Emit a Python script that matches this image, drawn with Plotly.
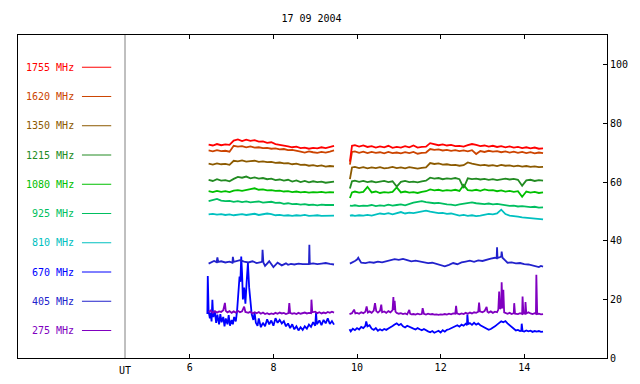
import plotly.graph_objects as go

# ---------------- data ----------------
TITLE = "17 09 2004"
FREQS = ["1755", "1620", "1350", "1215", "1080", "925", "810", "670", "405", "275"]
COLORS = ["#FF0000", "#CC4400", "#8C5A00", "#228B22", "#00C000",
          "#00BF60", "#00C0C0", "#0000FF", "#2222CC", "#8000C0"]
X_TICKS = [6, 8, 10, 12, 14]
Y_TICKS = [0, 20, 40, 60, 80, 100]

T_A = [6.45, 6.55, 6.65, 6.75, 6.85, 6.95, 7.05, 7.15, 7.25, 7.35, 7.45, 7.55, 7.65, 7.75, 7.85,
       7.95, 8.05, 8.15, 8.25, 8.35, 8.45, 8.55, 8.65, 8.75, 8.85, 8.95, 9.05, 9.15, 9.25, 9.35, 9.45]
T_B = [9.83, 9.88, 9.95, 10.05, 10.15, 10.25, 10.35, 10.45, 10.55, 10.65, 10.75, 10.85, 10.95,
       11.05, 11.15, 11.25, 11.35, 11.45, 11.55, 11.65, 11.75, 11.85, 11.95, 12.05, 12.15, 12.25,
       12.35, 12.45, 12.55, 12.65, 12.75, 12.85, 12.95, 13.05, 13.15, 13.25, 13.35, 13.45, 13.55,
       13.65, 13.75, 13.85, 13.95, 14.05, 14.15, 14.25, 14.35, 14.45]

F1755_A = [72.8, 72.5, 73.0, 72.6, 72.9, 72.7, 74.2, 74.6, 74.0, 74.5, 74.1, 74.3, 73.8, 73.9, 73.4, 73.6,
           73.0, 72.8, 72.5, 72.2, 71.9, 72.1, 71.6, 71.8, 71.4, 71.7, 71.5, 71.9, 71.6, 72.0, 72.4]
F1755_B = [67.0, 72.4, 72.6, 72.1, 72.5, 72.0, 72.3, 71.8, 72.2, 71.9, 72.4, 71.7, 72.0, 71.8, 72.3, 71.9,
           72.5, 71.8, 72.0, 72.1, 73.3, 73.0, 72.6, 72.9, 72.5, 72.7, 72.3, 72.4, 72.1, 72.6, 73.0, 72.7,
           72.3, 72.5, 72.1, 72.4, 72.0, 72.3, 71.9, 72.2, 71.8, 72.0, 71.6, 71.9, 71.5, 71.8, 71.4, 71.5]
F1620_A = [70.8, 70.5, 70.9, 70.6, 70.7, 70.4, 72.4, 72.1, 72.3, 71.9, 72.2, 71.8, 71.9, 71.6, 71.7, 71.4,
           71.5, 71.2, 71.3, 70.9, 71.0, 70.6, 70.4, 70.1, 70.5, 70.2, 70.0, 70.3, 70.1, 70.4, 70.8]
F1620_B = [66.0, 70.3, 70.5, 70.0, 70.4, 69.9, 70.3, 70.0, 70.2, 69.8, 70.3, 69.9, 70.1, 69.8, 70.2, 69.9,
           70.3, 69.7, 70.0, 70.1, 71.3, 71.0, 71.2, 70.8, 71.0, 70.7, 70.9, 70.6, 70.8, 70.5, 70.9, 69.6,
           70.6, 70.3, 70.7, 70.4, 70.6, 70.2, 70.5, 70.1, 70.4, 70.0, 70.3, 69.9, 70.2, 69.8, 70.1, 69.9]
F1350_A = [66.3, 66.0, 66.4, 66.1, 66.2, 65.9, 67.3, 67.1, 67.4, 67.0, 67.2, 67.3, 66.9, 67.1, 66.8, 66.9,
           66.6, 66.7, 66.4, 66.5, 66.1, 66.3, 65.9, 66.0, 65.6, 65.8, 65.5, 65.7, 65.3, 65.5, 65.4]
F1350_B = [61.0, 65.0, 65.2, 64.8, 65.1, 64.7, 65.0, 64.8, 65.1, 64.7, 64.9, 65.2, 64.8, 65.0, 64.7, 65.1,
           64.9, 64.6, 64.9, 65.0, 66.5, 66.2, 66.4, 66.0, 66.1, 65.8, 65.9, 65.6, 65.8, 66.7, 66.3, 66.0,
           65.7, 65.9, 65.6, 65.8, 65.5, 65.9, 65.6, 65.7, 65.4, 65.6, 65.3, 65.5, 65.2, 65.4, 65.1, 65.2]
F1215_A = [60.8, 60.4, 61.0, 60.5, 60.7, 60.3, 61.1, 61.8, 61.5, 61.9, 61.3, 61.6, 61.2, 61.4, 61.0, 61.2,
           60.7, 60.9, 60.5, 60.8, 60.2, 60.6, 60.0, 60.4, 59.9, 60.3, 60.0, 60.2, 59.8, 60.1, 60.2]
F1215_B = [57.8, 60.3, 60.5, 60.1, 60.4, 60.0, 60.3, 59.9, 60.2, 60.4, 60.0, 60.3, 58.5, 60.1, 60.4, 60.0,
           60.2, 59.9, 60.3, 60.5, 61.5, 61.2, 61.4, 61.0, 61.3, 61.1, 61.4, 61.0, 58.0, 61.3, 61.0, 61.2,
           60.9, 61.1, 60.8, 61.0, 60.7, 61.0, 61.2, 60.9, 61.1, 60.8, 58.8, 60.6, 60.8, 60.4, 60.7, 60.5]
F1080_A = [56.9, 56.6, 57.0, 56.7, 56.9, 56.6, 57.1, 57.3, 57.0, 57.4, 57.6, 57.9, 57.4, 57.5, 57.2, 57.3,
           57.0, 57.1, 56.8, 56.9, 56.6, 56.8, 56.5, 56.7, 56.4, 56.6, 56.5, 56.7, 56.4, 56.6, 56.5]
F1080_B = [54.6, 56.5, 56.8, 56.4, 56.7, 58.4, 56.5, 56.8, 56.3, 56.6, 56.4, 56.7, 58.2, 56.5, 56.8, 56.4,
           56.6, 56.3, 56.7, 56.9, 57.5, 57.2, 57.4, 57.0, 57.3, 57.1, 57.4, 57.0, 59.0, 57.3, 57.1, 57.4,
           57.0, 57.5, 57.2, 57.3, 56.9, 57.2, 56.8, 57.0, 56.7, 56.9, 55.0, 56.8, 56.4, 56.7, 56.3, 56.5]
F925_A = [53.5, 53.8, 54.3, 53.7, 53.5, 53.6, 53.3, 53.5, 53.2, 53.4, 53.1, 53.3, 53.4, 53.0, 53.2, 53.3,
          52.9, 53.0, 52.6, 52.8, 52.5, 52.6, 52.3, 52.5, 52.2, 52.3, 52.1, 52.3, 52.2, 52.3, 52.2]
F925_B = [52.0, 51.9, 52.1, 51.8, 52.0, 51.9, 52.2, 51.8, 52.1, 51.9, 52.3, 52.0, 52.2, 52.4, 52.1, 52.6,
          53.0, 53.3, 53.5, 53.2, 53.0, 52.8, 52.9, 52.6, 52.4, 52.3, 52.1, 52.4, 52.7, 53.0, 53.1, 52.8,
          52.6, 52.5, 52.7, 52.4, 52.6, 52.3, 52.2, 51.9, 52.0, 51.7, 51.8, 51.6, 51.5, 51.6, 51.3, 51.4]
F810_A = [49.0, 49.2, 48.9, 49.1, 48.8, 49.0, 48.7, 48.9, 49.1, 48.8, 48.9, 49.2, 48.8, 49.0, 49.3, 49.1,
          48.7, 48.8, 48.6, 48.7, 48.5, 48.7, 48.6, 48.8, 48.5, 48.6, 48.7, 48.5, 48.6, 48.7, 48.6]
F810_B = [48.6, 48.7, 48.5, 48.7, 48.6, 48.8, 48.6, 48.9, 49.3, 49.1, 49.4, 49.0, 49.5, 49.8, 49.3, 49.6,
          49.4, 49.7, 50.1, 50.3, 49.9, 49.6, 49.4, 49.5, 49.2, 49.3, 48.9, 48.6, 48.8, 48.5, 48.7, 48.4,
          48.6, 49.0, 49.2, 49.0, 49.3, 50.6, 49.1, 48.6, 48.3, 48.2, 48.0, 47.9, 47.7, 47.6, 47.4, 47.3]

# 405 MHz (own time base, spiky)
T405_A = [6.45, 6.52, 6.58, 6.64, 6.66, 6.68, 6.75, 6.85, 6.95, 7.02, 7.03, 7.05, 7.12, 7.2, 7.3, 7.4,
          7.5, 7.6, 7.7, 7.73, 7.74, 7.76, 7.8, 7.9, 8.0, 8.1, 8.2, 8.3, 8.35, 8.42, 8.5, 8.6, 8.7, 8.8,
          8.85, 8.86, 8.87, 8.95, 9.05, 9.15, 9.25, 9.35, 9.45]
F405_A = [32.2, 32.6, 33.1, 32.7, 34.3, 32.8, 33.0, 32.6, 32.9, 32.5, 34.5, 32.8, 33.0, 33.4, 32.9, 32.6,
          33.0, 32.4, 32.7, 32.9, 36.9, 32.6, 31.4, 33.0, 31.0, 32.5, 31.6, 32.3, 31.8, 32.1, 31.9, 32.2,
          32.0, 32.1, 32.0, 38.6, 32.1, 32.3, 32.0, 32.2, 32.4, 32.1, 31.9]
T405_B = [9.83, 9.9, 9.95, 10.0, 10.03, 10.06, 10.1, 10.2, 10.3, 10.4, 10.5, 10.6, 10.7, 10.8, 10.9,
          11.0, 11.1, 11.2, 11.3, 11.4, 11.5, 11.6, 11.7, 11.8, 11.9, 12.0, 12.1, 12.2, 12.3, 12.4, 12.5,
          12.6, 12.7, 12.8, 12.9, 13.0, 13.1, 13.2, 13.3, 13.34, 13.35, 13.36, 13.4, 13.45, 13.46, 13.48,
          13.55, 13.6, 13.7, 13.8, 13.9, 14.0, 14.1, 14.2, 14.3, 14.35, 14.4, 14.45]
F405_B = [32.2, 32.6, 33.1, 33.6, 34.2, 33.4, 32.5, 32.4, 32.7, 32.5, 32.9, 32.6, 33.0, 33.3, 33.7,
          33.5, 33.8, 33.4, 33.0, 33.2, 32.9, 32.6, 32.4, 32.5, 32.1, 31.6, 31.3, 31.8, 32.4, 32.0, 32.6,
          32.9, 33.2, 32.8, 33.3, 33.1, 33.6, 33.9, 34.2, 34.0, 37.8, 34.1, 34.3, 34.6, 36.3, 34.2,
          33.2, 32.5, 32.6, 32.3, 32.4, 32.0, 31.9, 31.6, 31.2, 31.0, 31.4, 31.2]

# 670 MHz
T670_A = [6.42, 6.43, 6.45, 6.48, 6.5, 6.52, 6.54, 6.56, 6.6, 6.63, 6.66, 6.7, 6.73, 6.76, 6.8, 6.83,
          6.86, 6.9, 6.93, 6.96, 7.0, 7.03, 7.06, 7.1, 7.13, 7.16, 7.19, 7.21, 7.23, 7.25, 7.27, 7.3,
          7.33, 7.36, 7.39, 7.42, 7.45, 7.48, 7.52, 7.55, 7.58, 7.62, 7.65, 7.7, 7.75, 7.8, 7.85, 7.9,
          7.95, 8.0, 8.05, 8.1, 8.15, 8.2, 8.25, 8.3, 8.35, 8.4, 8.45, 8.5, 8.55, 8.6, 8.65, 8.7, 8.75,
          8.8, 8.85, 8.9, 8.95, 9.0, 9.02, 9.04, 9.1, 9.15, 9.2, 9.25, 9.3, 9.35, 9.4, 9.45]
F670_A = [15.0, 28.0, 16.0, 13.5, 15.5, 12.5, 19.9, 14.0, 15.8, 12.0, 14.8, 11.5, 15.0, 12.2, 14.0, 10.8,
          13.5, 11.5, 14.6, 11.0, 13.0, 11.5, 14.0, 12.5, 16.0, 22.0, 27.8, 26.0, 34.6, 29.0, 20.0, 24.0,
          18.5, 26.0, 32.4, 24.0, 18.0, 15.0, 13.0, 15.5, 12.0, 11.0, 13.5, 10.5, 12.0, 10.8, 13.2, 11.5,
          12.8, 11.0, 13.6, 12.0, 13.0, 11.8, 12.6, 10.8, 11.8, 10.2, 11.5, 9.8, 10.8, 9.4, 10.5, 9.6, 10.8,
          10.0, 11.4, 10.6, 12.2, 11.0, 15.4, 11.5, 12.8, 11.2, 13.0, 11.8, 13.5, 11.6, 12.6, 11.4]
T670_B = [9.82, 9.85, 9.9, 9.95, 10.0, 10.05, 10.1, 10.15, 10.2, 10.22, 10.25, 10.3, 10.35, 10.4, 10.45,
          10.5, 10.55, 10.6, 10.65, 10.7, 10.75, 10.8, 10.85, 10.9, 10.95, 11.0, 11.05, 11.1, 11.15, 11.2,
          11.25, 11.3, 11.35, 11.4, 11.45, 11.5, 11.55, 11.6, 11.65, 11.7, 11.75, 11.8, 11.85, 11.9, 11.95,
          12.0, 12.05, 12.1, 12.15, 12.2, 12.25, 12.3, 12.35, 12.4, 12.45, 12.5, 12.55, 12.6, 12.63, 12.64,
          12.66, 12.7, 12.75, 12.8, 12.85, 12.9, 12.95, 13.0, 13.05, 13.1, 13.15, 13.2, 13.25, 13.3, 13.35,
          13.4, 13.45, 13.5, 13.55, 13.6, 13.65, 13.7, 13.75, 13.8, 13.85, 13.9, 13.93, 13.94, 13.96, 14.0,
          14.05, 14.1, 14.15, 14.2, 14.25, 14.3, 14.35, 14.4, 14.45]
F670_B = [9.8, 9.1, 10.0, 9.5, 10.2, 9.7, 10.6, 10.2, 11.0, 12.5, 10.8, 11.2, 10.0, 9.6, 10.2,
          9.3, 9.8, 9.4, 9.9, 9.6, 10.1, 10.4, 10.9, 11.4, 11.8, 11.2, 11.6, 10.8, 10.4, 11.0,
          10.6, 10.2, 10.0, 9.7, 10.2, 9.8, 9.5, 9.9, 9.4, 9.1, 8.8, 9.2, 8.6, 8.9, 9.3,
          8.7, 9.5, 9.0, 9.6, 9.8, 10.2, 10.6, 10.9, 11.2, 10.7, 11.4, 11.0, 11.7, 11.2, 14.8,
          11.5, 11.9, 11.3, 12.0, 11.4, 11.8, 11.2, 10.8, 10.2, 9.9, 9.6, 9.9, 10.3, 10.8, 11.4,
          11.9, 12.5, 12.2, 12.6, 11.8, 11.2, 10.4, 9.8, 9.4, 9.6, 9.2, 9.3, 11.7, 9.2, 9.0,
          9.4, 9.1, 9.3, 8.9, 9.2, 9.0, 9.2, 8.9, 9.0]

# 275 MHz
T275_A = [6.45, 6.5, 6.55, 6.6, 6.65, 6.7, 6.75, 6.8, 6.84, 6.86, 6.9, 6.95, 7.0, 7.05, 7.1, 7.15, 7.2,
          7.25, 7.3, 7.33, 7.4, 7.45, 7.5, 7.55, 7.6, 7.65, 7.7, 7.75, 7.8, 7.85, 7.9, 7.95, 8.0, 8.05,
          8.1, 8.15, 8.2, 8.25, 8.3, 8.36, 8.38, 8.4, 8.45, 8.5, 8.55, 8.6, 8.65, 8.7, 8.75, 8.8, 8.85,
          8.9, 8.91, 8.93, 9.0, 9.05, 9.1, 9.15, 9.2, 9.25, 9.3, 9.35, 9.4, 9.45]
F275_A = [15.6, 16.2, 15.4, 16.0, 15.5, 15.9, 15.7, 16.3, 18.8, 16.1, 15.6, 16.0, 15.4, 15.9, 15.5, 16.1,
          15.6, 15.9, 17.5, 15.7, 15.4, 15.8, 15.2, 15.6, 15.3, 15.7, 15.1, 15.5, 15.0, 15.3, 14.9, 15.2,
          15.0, 15.4, 15.1, 15.5, 15.2, 15.4, 15.0, 15.3, 18.7, 15.4, 15.1, 15.3, 15.0, 15.4, 15.1, 15.3,
          15.5, 15.2, 15.4, 15.3, 19.9, 15.6, 15.8, 15.3, 15.6, 15.2, 15.5, 15.3, 15.7, 15.4, 15.8, 15.5]
T275_B = [9.82, 9.88, 9.93, 9.96, 10.0, 10.05, 10.1, 10.15, 10.2, 10.23, 10.26, 10.3, 10.35, 10.4, 10.43,
          10.46, 10.5, 10.55, 10.58, 10.6, 10.65, 10.7, 10.75, 10.8, 10.85, 10.87, 10.88, 10.9, 10.92, 10.95,
          11.0, 11.05, 11.1, 11.15, 11.2, 11.25, 11.27, 11.3, 11.35, 11.4, 11.45, 11.5, 11.55, 11.57, 11.6,
          11.65, 11.7, 11.75, 11.8, 11.85, 11.9, 11.95, 12.0, 12.05, 12.1, 12.15, 12.2, 12.25, 12.3, 12.35,
          12.37, 12.39, 12.45, 12.5, 12.55, 12.6, 12.65, 12.7, 12.75, 12.8, 12.85, 12.9, 12.92, 12.94, 13.0,
          13.05, 13.1, 13.12, 13.15, 13.2, 13.25, 13.3, 13.35, 13.38, 13.4, 13.42, 13.45, 13.46, 13.48, 13.5,
          13.52, 13.55, 13.6, 13.65, 13.7, 13.75, 13.76, 13.78, 13.85, 13.9, 13.95, 13.96, 13.98, 14.02, 14.03,
          14.05, 14.1, 14.15, 14.2, 14.25, 14.28, 14.29, 14.3, 14.31, 14.35, 14.4, 14.45]
F275_B = [15.0, 15.3, 16.5, 15.2, 15.4, 15.1, 15.6, 15.3, 15.8, 17.6, 15.5, 15.9, 15.4, 16.2, 18.7,
          16.0, 15.5, 16.1, 18.2, 15.6, 15.9, 15.4, 16.0, 15.6, 16.3, 20.8, 16.4, 19.5, 15.8, 15.4,
          15.1, 15.3, 15.0, 15.2, 14.9, 16.4, 15.1, 14.9, 15.0, 14.8, 15.1, 14.9, 15.0, 17.0, 15.1,
          14.8, 15.1, 14.9, 15.0, 14.8, 14.9, 14.7, 14.9, 14.8, 15.0, 14.8, 15.1, 14.9, 15.2, 15.1,
          17.8, 15.2, 14.9, 15.2, 15.0, 15.4, 15.1, 15.5, 15.2, 15.6, 15.4, 15.8, 18.9, 15.9, 15.6,
          16.0, 17.4, 15.8, 15.5, 15.9, 15.4, 15.8, 15.6, 16.5, 22.7, 16.8, 17.2, 25.8, 16.9, 23.3,
          15.6, 15.3, 15.1, 15.4, 15.0, 15.3, 18.7, 15.1, 15.0, 15.3, 15.0, 21.0, 15.2, 15.1, 19.1,
          15.2, 15.6, 15.2, 15.0, 15.3, 15.1, 28.4, 17.5, 15.0, 15.1, 14.9, 15.0]

SERIES = [
    (T_A, F1755_A, T_B, F1755_B),
    (T_A, F1620_A, T_B, F1620_B),
    (T_A, F1350_A, T_B, F1350_B),
    (T_A, F1215_A, T_B, F1215_B),
    (T_A, F1080_A, T_B, F1080_B),
    (T_A, F925_A, T_B, F925_B),
    (T_A, F810_A, T_B, F810_B),
    (T670_A, F670_A, T670_B, F670_B),
    (T405_A, F405_A, T405_B, F405_B),
    (T275_A, F275_A, T275_B, F275_B),
]

# ---------------- figure ----------------
FONT = "DejaVu Sans Mono"
fig = go.Figure()

draw_order = [7, 9, 8, 6, 5, 4, 3, 2, 1, 0]
for i in draw_order:
    ta, va, tb, vb = SERIES[i]
    fig.add_trace(go.Scatter(
        x=list(ta) + [None] + list(tb),
        y=list(va) + [None] + list(vb),
        mode="lines",
        line=dict(color=COLORS[i], width=1.8),
        hoverinfo="skip",
        name=FREQS[i] + " MHz",
    ))

X_RANGE = [1.89, 15.98]
Y_RANGE = [0, 110.2]
UT_X = 4.45

# page body has an 8px default margin -> compensate in the figure margins
OFF = 8
shapes = [dict(type="line", xref="x", yref="paper", x0=UT_X, x1=UT_X, y0=0, y1=1,
               line=dict(color="#808080", width=1))]
annotations = [dict(xref="x", yref="paper", x=UT_X, y=0, yanchor="top", yshift=-5,
                    text="UT", showarrow=False, font=dict(family=FONT, size=10, color="black"))]

for i, (f, c) in enumerate(zip(FREQS, COLORS)):
    ly = 99.2 - i * 9.98
    annotations.append(dict(xref="x", yref="y", x=3.27, y=ly, xanchor="right", yanchor="middle",
                            text=f + " MHz", showarrow=False,
                            font=dict(family=FONT, size=10, color=c)))
    shapes.append(dict(type="line", xref="x", yref="y", x0=3.42, x1=4.12, y0=ly, y1=ly,
                       line=dict(color=c, width=1)))

fig.update_layout(
    width=640, height=384,
    margin=dict(l=18 - OFF, r=640 - 607 + OFF, t=35 - OFF, b=384 - 358 + OFF),
    paper_bgcolor="white", plot_bgcolor="white",
    showlegend=False,
    title=dict(text=TITLE, x=(311.5 - OFF) / 640, xanchor="center", y=1 - (18 - OFF) / 384,
               yanchor="middle", font=dict(family=FONT, size=10, color="black")),
    shapes=shapes,
    annotations=annotations,
    xaxis=dict(range=X_RANGE, tickvals=X_TICKS, ticktext=[str(v) for v in X_TICKS],
               ticks="inside", ticklen=4, tickcolor="black", showline=True, linecolor="black",
               linewidth=1, mirror="ticks", showgrid=False, zeroline=False,
               tickfont=dict(family=FONT, size=10, color="black")),
    yaxis=dict(range=Y_RANGE, tickvals=Y_TICKS, side="right",
               ticks="inside", ticklen=4, tickcolor="black", showline=True, linecolor="black",
               linewidth=1, mirror=True, showgrid=False, zeroline=False,
               tickfont=dict(family=FONT, size=10, color="black")),
)

fig.write_html("out.html")
